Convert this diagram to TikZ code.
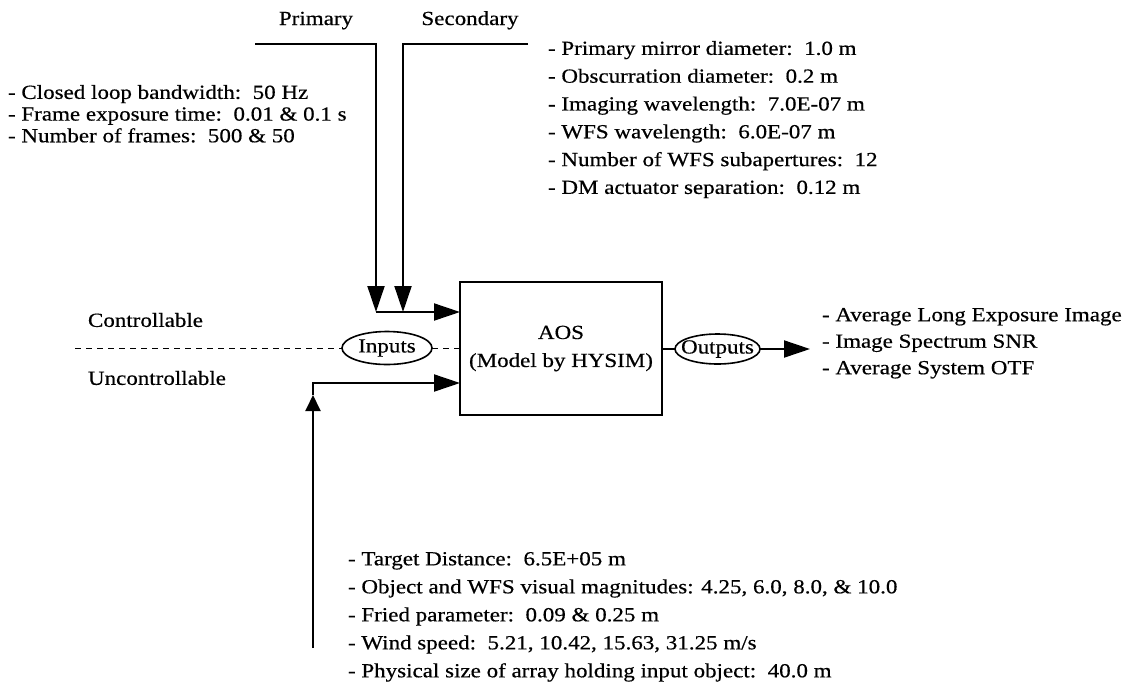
\documentclass[tikz,border=0pt]{standalone}
\usepackage{fontspec}
\setmainfont{Liberation Serif}[FakeStretch=1.15,FakeBold=0.5]
\usetikzlibrary{arrows.meta,shapes.geometric}
\begin{document}
\begin{tikzpicture}[x=1pt,y=-1pt,
  every node/.style={inner sep=0pt, outer sep=0pt},
  txt/.style={font=\fontsize{20}{28}\selectfont, align=left},
  line/.style={line width=2pt},
  arr/.style={line width=2pt, -{Triangle[length=26pt,width=17pt]}},
  arrsmall/.style={line width=2pt, -{Triangle[length=16pt,width=15pt]}},
  oval/.style={draw, ellipse, line width=1.6pt, font=\fontsize{20}{24}\selectfont},
  dashline/.style={line width=0.9pt, dash pattern=on 6pt off 5pt}
]
\useasboundingbox (0,0) rectangle (1137,686);

% labels at top
\node[txt, anchor=base] (lprim) at (316,25) {Primary};
\node[txt, anchor=base] (lsec) at (470,25) {Secondary};

% parameter lists
\node[txt, anchor=north west, font=\fontsize{20}{21.7}\selectfont] (ctrl) at (8,85)
 {- Closed loop bandwidth:~~50 Hz\\- Frame exposure time:~~0.01 \& 0.1 s\\- Number of frames:~~500 \& 50};
\node[txt, anchor=north west, font=\fontsize{20}{27.8}\selectfont] (sec) at (548,41)
 {- Primary mirror diameter:~~1.0 m\\- Obscurration diameter:~~0.2 m\\- Imaging wavelength:~~7.0E-07 m\\- WFS wavelength:~~6.0E-07 m\\- Number of WFS subapertures:~~12\\- DM actuator separation:~~0.12 m};
\node[txt, anchor=north west, font=\fontsize{20}{28}\selectfont] (unc) at (348,552)
 {- Target Distance:~~6.5E+05 m\\- Object and WFS visual magnitudes: 4.25, 6.0, 8.0, \& 10.0\\- Fried parameter:~~0.09 \& 0.25 m\\- Wind speed:~~5.21, 10.42, 15.63, 31.25 m/s\\- Physical size of array holding input object:~~40.0 m};
\node[txt, anchor=north west, font=\fontsize{20}{26.5}\selectfont] (outl) at (822,308)
 {- Average Long Exposure Image\\- Image Spectrum SNR\\- Average System OTF};

\node[txt, anchor=west] (lctrl) at (88,320) {Controllable};
\node[txt, anchor=west] (lunc) at (88,378) {Uncontrollable};

% main box
\node[draw, line width=2pt, minimum width=202pt, minimum height=133pt,
      txt, align=center, font=\fontsize{20}{28}\selectfont] (aos) at (561,348.5)
 {AOS\\(Model by HYSIM)};

% ellipses
\node[oval, minimum width=90pt, minimum height=33pt] (inputs) at (387,348) {\makebox[0pt]{Inputs}};
\node[oval, minimum width=85pt, minimum height=30pt] (outputs) at (717.5,349) {\makebox[0pt]{Outputs}};

% coordinates
\coordinate (pstart) at (255,44);
\coordinate (pcorner) at (376,44);
\coordinate (pjoin) at (376,312);
\coordinate (sstart) at (528,44);
\coordinate (scorner) at (403,44);
\coordinate (sjoin) at (403,312);
\coordinate (ubot) at (313,648);
\coordinate (umid) at (313,395);
\coordinate (ucorner) at (313,383);
\coordinate (dstart) at (75,348);
\coordinate (outend) at (810,349);

% connectors
\draw[arr] (pstart) -- (pcorner) -- (pjoin);
\draw[arr] (sstart) -- (scorner) -- (sjoin);
\draw[arr] (pjoin) -- (pjoin -| aos.west);
\draw[arrsmall] (ubot) -- (umid);
\draw[arr] (umid) -- (ucorner) -- (ucorner -| aos.west);
\draw[dashline] (dstart) -- (inputs.west);
\draw[dashline] (inputs.east) -- (inputs.east -| aos.west);
\draw[line] (outputs.west -| aos.east) -- (outputs.west);
\draw[arr] (outputs.east) -- (outend);
\end{tikzpicture}
\end{document}
